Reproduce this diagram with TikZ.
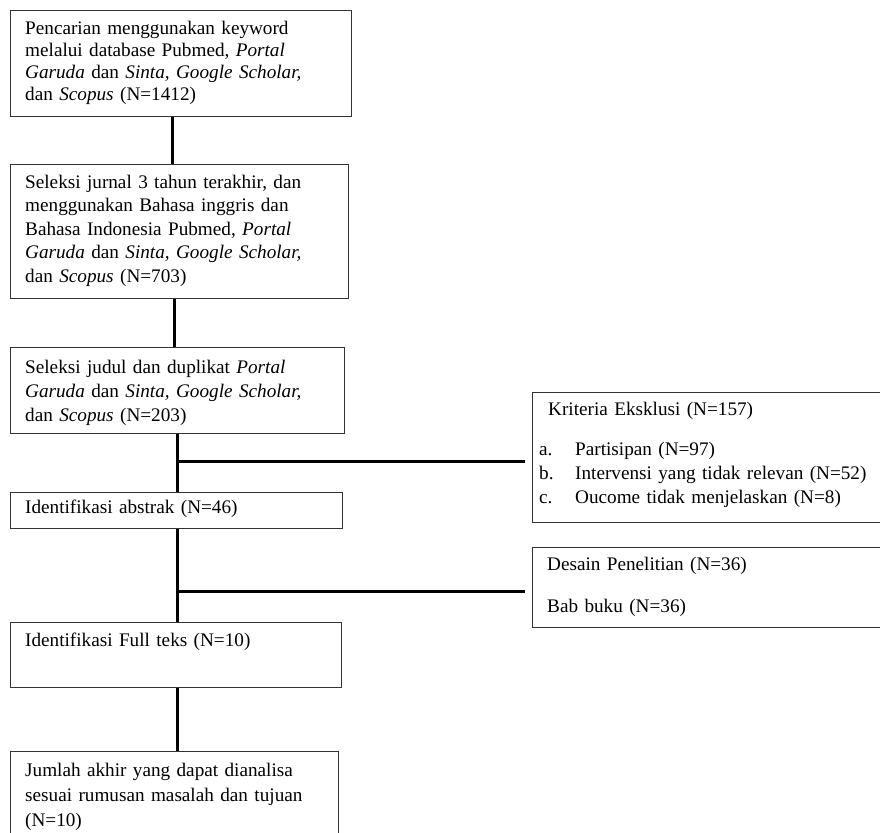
\documentclass[tikz,border=0pt]{standalone}
\usepackage{fontspec}
\setmainfont{Liberation Serif}
\begin{document}
\begin{tikzpicture}[x=1pt,y=-1pt,
  box/.style={draw=black!80,line width=1.3pt,anchor=north west,inner sep=0pt,rectangle},
  txt/.style={anchor=base west,inner sep=0pt,align=left,text width=330pt,font=\fontsize{19.2}{#1}\selectfont},
  conn/.style={draw=black,line width=3pt}]
\useasboundingbox (0,0) rectangle (880,832);
\clip (0,0) rectangle (880,832);
% boxes
\node[box,minimum width=341pt,minimum height=106pt] (b1) at (10,10) {};
\node[box,minimum width=338pt,minimum height=134pt] (b2) at (10,164) {};
\node[box,minimum width=334pt,minimum height=86pt] (b3) at (10,347) {};
\node[box,minimum width=332pt,minimum height=36pt] (b4) at (10,492) {};
\node[box,minimum width=331pt,minimum height=65pt] (b5) at (10,622) {};
\node[box,minimum width=328pt,minimum height=100pt] (b6) at (10,751) {};
\node[box,minimum width=360pt,minimum height=130pt] (b7) at (532,392) {};
\node[box,minimum width=360pt,minimum height=80pt] (b8) at (532,547) {};
% texts
\node[txt=22] (t1) at (25,35) {Pencarian menggunakan keyword\\melalui database Pubmed, \textit{Portal}\\\textit{Garuda} dan \textit{Sinta, Google Scholar,}\\dan \textit{Scopus} (N=1412)};
\node[txt=23.5] (t2) at (25,188) {Seleksi jurnal 3 tahun terakhir, dan\\menggunakan Bahasa inggris dan\\Bahasa Indonesia Pubmed, \textit{Portal}\\\textit{Garuda} dan \textit{Sinta, Google Scholar,}\\dan \textit{Scopus} (N=703)};
\node[txt=24] (t3) at (25,373) {Seleksi judul dan duplikat \textit{Portal}\\\textit{Garuda} dan \textit{Sinta, Google Scholar,}\\dan \textit{Scopus} (N=203)};
\node[txt=22] (t4) at (25,513) {Identifikasi abstrak (N=46)};
\node[txt=22] (t5) at (25,646) {Identifikasi Full teks (N=10)};
\node[txt=25] (t6) at (25,776) {Jumlah akhir yang dapat dianalisa\\sesuai rumusan masalah dan tujuan\\(N=10)};
\node[txt=22] (t7) at (548,415) {Kriteria Eksklusi (N=157)};
\node[txt=24,text width=340pt] (t7l) at (539,455) {\makebox[36pt][l]{a.}Partisipan (N=97)\\\makebox[36pt][l]{b.}Intervensi yang tidak relevan (N=52)\\\makebox[36pt][l]{c.}Oucome tidak menjelaskan (N=8)};
\node[txt=42] (t8) at (547,570) {Desain Penelitian (N=36)\\Bab buku (N=36)};
% connectors
\coordinate (xa) at (172,0);
\coordinate (xb) at (174,0);
\coordinate (xc) at (177,0);
\coordinate (j1) at (177,461);
\coordinate (e1) at (525,461);
\coordinate (j2) at (177,591);
\coordinate (e2) at (525,591);
\draw[conn] (b1.south -| xa) -- (b2.north -| xa);
\draw[conn] (b2.south -| xb) -- (b3.north -| xb);
\draw[conn] (b3.south -| xc) -- (b4.north -| xc);
\draw[conn] (j1) -- (e1);
\draw[conn] (b4.south -| xc) -- (b5.north -| xc);
\draw[conn] (j2) -- (e2);
\draw[conn] (b5.south -| xc) -- (b6.north -| xc);
\end{tikzpicture}
\end{document}
